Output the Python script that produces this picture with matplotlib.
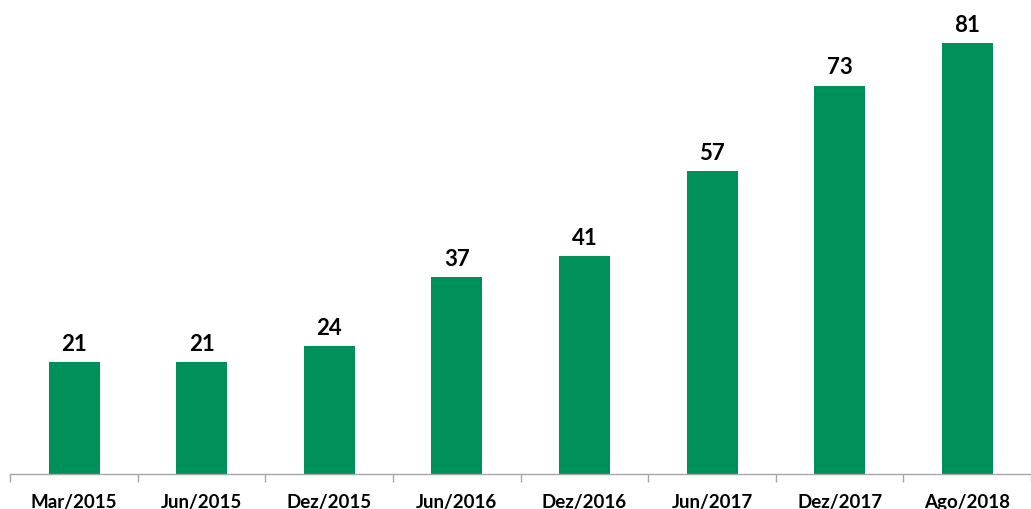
import matplotlib.pyplot as plt
import numpy as np

# ---------- Data ----------
periods = ["Mar/2015", "Jun/2015", "Dez/2015", "Jun/2016",
           "Dez/2016", "Jun/2017", "Dez/2017", "Ago/2018"]
values = [21, 21, 24, 37, 41, 57, 73, 81]

bar_color = "#00905A"
axis_color = "#A6A6A6"

plt.rcParams["font.family"] = ["Lato", "DejaVu Sans"]

fig = plt.figure(figsize=(10.31, 5.10), dpi=100)
# axes placed so the category band matches the reference
ax = fig.add_axes([10.3 / 1031, 35 / 510, 1020.7 / 1031, 475 / 510])

x = np.arange(len(periods))
bars = ax.bar(x, values, width=0.40, color=bar_color, zorder=2)

for xi, v in zip(x, values):
    ax.text(xi, v + 2.3, f"{v}", ha="center", va="baseline",
            fontsize=16, fontweight="bold", color="black")

ax.set_xlim(-0.5, 7.5 - 6 / 128.4)
ax.set_ylim(0, 89.3)

# ---------- Axis styling ----------
for side in ["top", "right", "left"]:
    ax.spines[side].set_visible(False)
ax.spines["bottom"].set_color(axis_color)
ax.spines["bottom"].set_linewidth(1.0)
ax.set_yticks([])

ax.set_xticks(x)
ax.set_xticklabels(periods, fontsize=13.5, fontweight="bold")
ax.tick_params(axis="x", which="major", length=0, pad=14)
ax.set_xticks(np.arange(-0.5, len(periods), 1.0), minor=True)
ax.tick_params(axis="x", which="minor", length=6, color=axis_color, width=1.0)

fig.savefig("out.png", dpi=100)
